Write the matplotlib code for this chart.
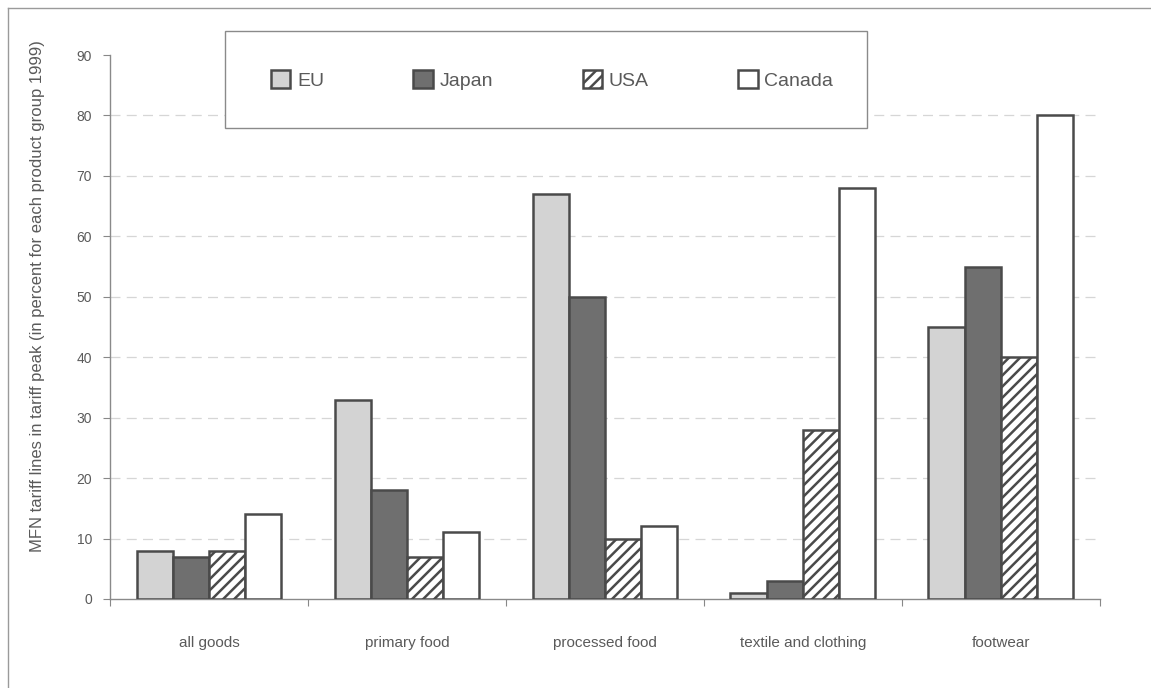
import numpy as np
import matplotlib.pyplot as plt
from matplotlib.lines import Line2D
from matplotlib.patches import Rectangle

plt.rcParams['font.family'] = ['Liberation Sans', 'DejaVu Sans']
plt.rcParams['hatch.linewidth'] = 1.8

groups = ['all goods', 'primary food', 'processed food', 'textile and clothing', 'footwear']
eu = [8, 33, 67, 1, 45]
japan = [7, 18, 50, 3, 55]
usa = [8, 7, 10, 28, 40]
canada = [14, 11, 12, 68, 80]

series = [('EU', eu), ('Japan', japan), ('USA', usa), ('Canada', canada)]
fills = ['#d3d3d3', '#6f6f6f', 'white', 'white']
hatches = [None, None, '///', None]
edge = '#4a4a4a'
txt = '#5a5a5a'

fig = plt.figure(figsize=(11.51, 6.88), dpi=100)
ax = fig.add_axes([0.0956, 0.1294, 0.860, 0.7906])

# outer frame (top and left edges only)
fig.add_artist(Line2D([8/1151, 1], [1-8/688, 1-8/688], color='#9a9a9a', lw=1))
fig.add_artist(Line2D([8/1151, 8/1151], [0, 1-8/688], color='#9a9a9a', lw=1))

w = 0.183
x = np.arange(len(groups)) + 0.5
for k, (name, vals) in enumerate(series):
    ax.bar(x + (k - 1.5) * w, vals, width=w, color=fills[k], edgecolor=edge,
           linewidth=1.8, hatch=hatches[k], label=name, zorder=3)

ax.set_xlim(0, len(groups))
ax.set_ylim(0, 90)
ax.set_yticks(range(0, 91, 10))
# dashed guides at 10..80, none along the top
for yv in range(10, 90, 10):
    ax.axhline(yv, color='#d6d6d6', linestyle=(0, (8, 5)), linewidth=0.9, zorder=0)

# boundary ticks on the x axis, labels centred in each group
ax.set_xticks(range(len(groups) + 1))
ax.set_xticklabels([])
ax.set_xticks(x, minor=True)
ax.set_xticklabels(groups, minor=True)
ax.tick_params(axis='x', which='minor', length=0, pad=27, labelsize=11, labelcolor=txt)
ax.tick_params(axis='x', which='major', length=5, color='#888888')
ax.tick_params(axis='y', length=5, color='#888888', labelsize=10, labelcolor=txt, pad=8)

for s in ['top', 'right']:
    ax.spines[s].set_visible(False)
for s in ['left', 'bottom']:
    ax.spines[s].set_color('#8a8a8a')
    ax.spines[s].set_linewidth(1)

ax.set_ylabel('MFN tariff lines in tariff peak (in percent for each product group 1999)',
              fontsize=12, color=txt)
ax.yaxis.set_label_coords(-0.066, 0.557)

# legend inside its own white box, covering the grid behind it
box = Rectangle((225/1151, 1-128/688), 642/1151, 97/688, transform=fig.transFigure,
                facecolor='white', edgecolor='#8a8a8a', linewidth=1, zorder=2)
fig.add_artist(box)
leg = fig.legend(loc='center', bbox_to_anchor=(552/1151, 1-80/688), ncol=4,
                 frameon=False, fontsize=14, handlelength=1.0, handleheight=1.0,
                 handletextpad=0.35, columnspacing=4.6)
leg.set_zorder(3)
for t in leg.get_texts():
    t.set_color(txt)

fig.savefig('out.png', dpi=100)
